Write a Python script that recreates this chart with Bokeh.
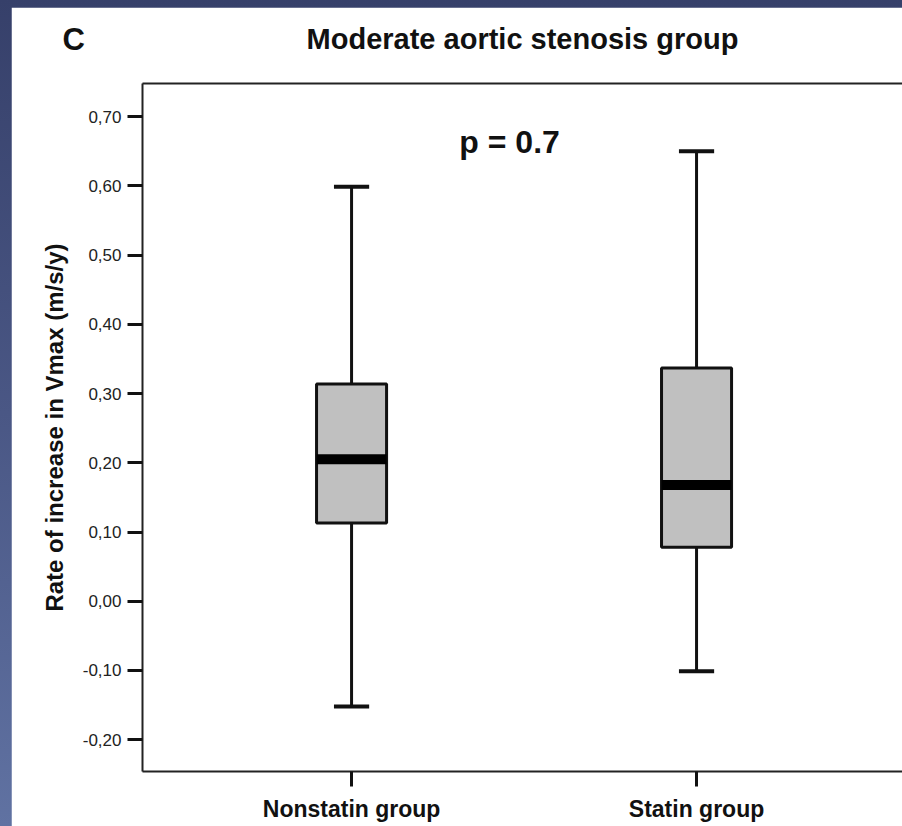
from bokeh.plotting import figure
from bokeh.models import Range1d, FixedTicker, LinearAxis, Label, CustomJSTickFormatter
from bokeh.layouts import column
from bokeh.embed import file_html
from bokeh.resources import INLINE

# ---- data ----
groups = ["Nonstatin group", "Statin group"]
q1 = [0.113, 0.078]
median = [0.205, 0.168]
q3 = [0.314, 0.337]
whisker_low = [-0.152, -0.101]
whisker_high = [0.599, 0.650]
y_ticks = [-0.20, -0.10, 0.00, 0.10, 0.20, 0.30, 0.40, 0.50, 0.60, 0.70]
title_text = "Moderate aortic stenosis group"
panel_letter = "C"
p_value_text = "p = 0.7"
y_label = "Rate of increase in Vmax (m/s/y)"

xs = [i + 1 for i in range(len(groups))]

FONT = "Liberation Sans"
INK = "#111111"

p = figure(width=891, height=819, output_backend="svg", toolbar_location=None,
           x_range=Range1d(0.394, 2.597), y_range=Range1d(-0.246, 0.748),
           min_border_left=131, min_border_right=0, min_border_top=76,
           min_border_bottom=55, x_axis_location=None, y_axis_location=None,
           title=panel_letter)
p.outline_line_color = None
p.grid.visible = False
p.background_fill_color = "white"
p.border_fill_color = "white"

p.title.align = "left"
p.title.offset = -80
p.title.vertical_align = "bottom"
p.title.standoff = -74
p.title.text_font = FONT
p.title.text_font_style = "bold"
p.title.text_font_size = "31px"
p.title.text_color = INK

# axes
yax = LinearAxis(ticker=FixedTicker(ticks=y_ticks))
yax.formatter = CustomJSTickFormatter(code="return tick.toFixed(2).replace('.', ',');")
yax.axis_line_width = 2
yax.axis_line_color = "#222222"
yax.major_tick_line_width = 3
yax.major_tick_line_color = INK
yax.major_tick_out = 15
yax.major_tick_in = 0
yax.minor_tick_line_color = None
yax.major_label_text_font = FONT
yax.major_label_text_font_size = "17px"
yax.major_label_text_color = "#222222"
yax.major_label_standoff = 6
yax.axis_label = y_label
yax.axis_label_text_font = FONT
yax.axis_label_text_font_style = "bold"
yax.axis_label_text_font_size = "24px"
yax.axis_label_text_color = INK
yax.axis_label_standoff = 12
p.add_layout(yax, "left")

xax = LinearAxis(ticker=FixedTicker(ticks=xs),
                 major_label_overrides={x: g for x, g in zip(xs, groups)})
xax.axis_line_width = 2
xax.axis_line_color = "#222222"
xax.major_tick_line_width = 3
xax.major_tick_line_color = INK
xax.major_tick_out = 15
xax.major_tick_in = 0
xax.minor_tick_line_color = None
xax.major_label_text_font = FONT
xax.major_label_text_font_style = "bold"
xax.major_label_text_font_size = "23px"
xax.major_label_text_color = INK
xax.major_label_standoff = 9
p.add_layout(xax, "below")

top = LinearAxis(ticker=FixedTicker(ticks=[]))
top.axis_line_width = 2
top.axis_line_color = "#222222"
top.major_label_text_font_size = "0px"
top.major_tick_line_color = None
top.minor_tick_line_color = None
top.axis_label = title_text
top.axis_label_text_font = FONT
top.axis_label_text_font_style = "bold"
top.axis_label_text_font_size = "29px"
top.axis_label_text_color = INK
top.axis_label_standoff = 29
p.add_layout(top, "above")

# boxes
box_w = 0.203
cap_w = 0.102
p.segment(x0=xs, y0=q3, x1=xs, y1=whisker_high, line_color=INK, line_width=3)
p.segment(x0=xs, y0=q1, x1=xs, y1=whisker_low, line_color=INK, line_width=3)
p.segment(x0=[x - cap_w / 2 for x in xs], y0=whisker_high,
          x1=[x + cap_w / 2 for x in xs], y1=whisker_high, line_color=INK, line_width=4)
p.segment(x0=[x - cap_w / 2 for x in xs], y0=whisker_low,
          x1=[x + cap_w / 2 for x in xs], y1=whisker_low, line_color=INK, line_width=4)
p.vbar(x=xs, width=box_w, bottom=q1, top=q3, fill_color="#c0c0c0",
       line_color=INK, line_width=3)
p.segment(x0=[x - box_w / 2 for x in xs], y0=median,
          x1=[x + box_w / 2 for x in xs], y1=median, line_color="#000000",
          line_width=10, line_cap="butt")

p.add_layout(Label(x=1.458, y=0.663, text=p_value_text, text_align="center",
                   text_baseline="alphabetic", text_font=FONT, text_font_style="bold",
                   text_font_size="32px", text_color=INK))

layout = column(p, styles={
    "background": "linear-gradient(to bottom, #36406a 0%, #4a5785 50%, #6072a2 100%)",
    "padding": "7px 0px 0px 11px"})

open("out.html", "w").write(file_html(layout, INLINE))
